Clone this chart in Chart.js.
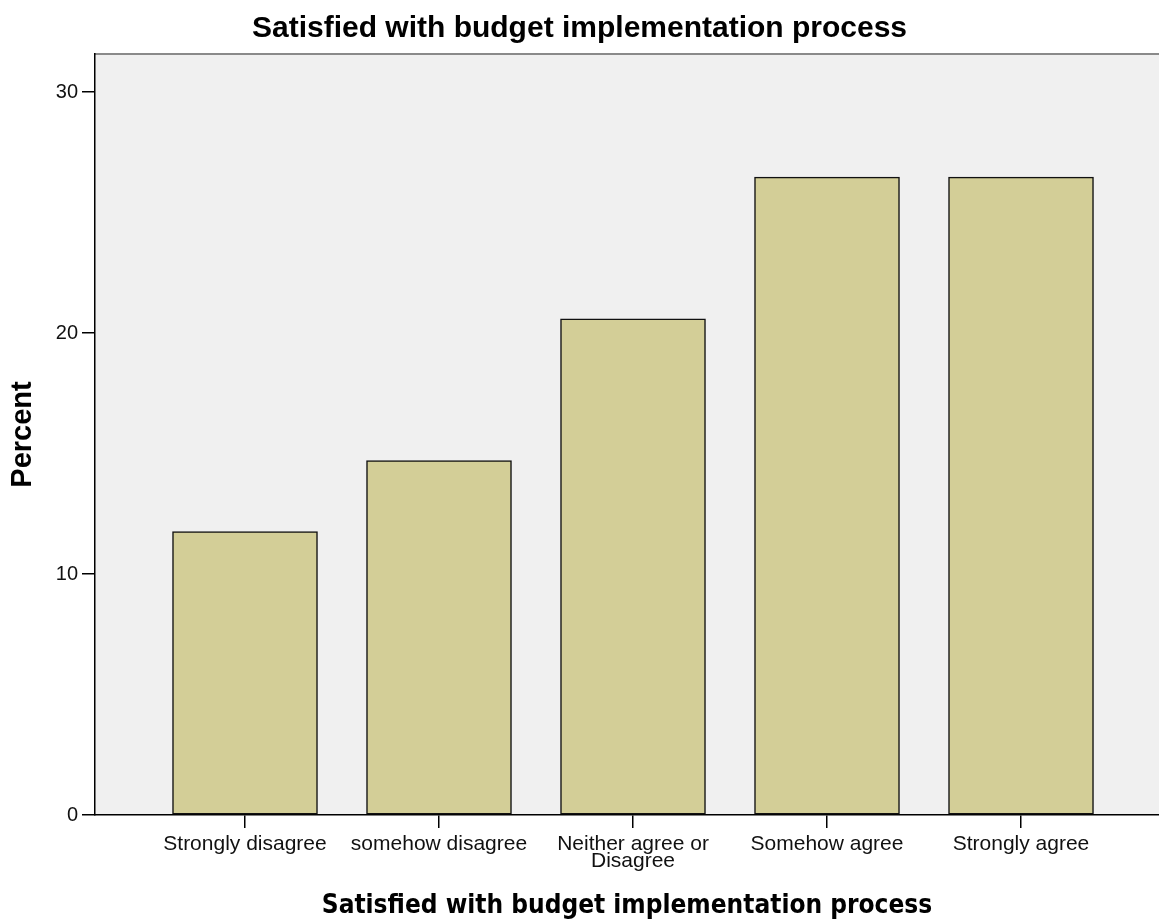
<!DOCTYPE html>
<html>
<head>
<meta charset="utf-8">
<script src="https://cdn.jsdelivr.net/npm/chart.js@4.4.1/dist/chart.umd.min.js"></script>
<style>
    body { margin: 0; background: #fff; }
    canvas { display: block; }
</style>
</head>
<body>
<canvas id="myChart" width="1159" height="924"></canvas>
<script>
let myChart;

// values (percent of respondents)
const categories = ['Strongly disagree', 'somehow disagree', ['Neither agree or', 'Disagree'], 'Somehow agree', 'Strongly agree'];
const percentValues = [11.76, 14.71, 20.59, 26.47, 26.47];
const yTicks = [0, 10, 20, 30];
const chartTitle = 'Satisfied with budget implementation process';
const yTitle = 'Percent';

// grey plot background and the top frame line
const plotBackground = {
    id: 'plotBackground',
    beforeDraw(chart) {
        const {ctx, chartArea} = chart;
        ctx.save();
        ctx.fillStyle = '#f0f0f0';
        ctx.fillRect(chartArea.left, chartArea.top, chartArea.right - chartArea.left, chartArea.bottom - chartArea.top);
        ctx.strokeStyle = '#8a8a8a';
        ctx.lineWidth = 2;
        ctx.beginPath();
        ctx.moveTo(chartArea.left, chartArea.top);
        ctx.lineTo(chartArea.right, chartArea.top);
        ctx.stroke();
        ctx.restore();
    }
};

function createChart(labels, values) {
    const ctx = document.getElementById('myChart').getContext('2d');

    if (myChart) {
        myChart.destroy();
    }

    Chart.defaults.font.family = '"Liberation Sans", Arial, sans-serif';
    Chart.defaults.color = '#000';

    myChart = new Chart(ctx, {
        type: 'bar',
        data: {
            datasets: [{
                label: yTitle,
                data: values.map((v, i) => ({x: i + 1, y: v})),
                backgroundColor: '#d3ce97',
                borderColor: '#111',
                borderWidth: 1.5,
                borderSkipped: false,
                barThickness: 145
            }]
        },
        options: {
            responsive: false,
            animation: false,
            layout: {
                padding: 0
            },
            plugins: {
                legend: {
                    display: false
                },
                tooltip: {
                    enabled: false
                },
                title: {
                    display: true,
                    text: chartTitle,
                    color: '#000',
                    font: {size: 30, weight: 'bold'},
                    padding: {top: 11, bottom: 7}
                }
            },
            scales: {
                x: {
                    type: 'linear',
                    offset: false,
                    min: 0.2268,
                    max: 5.7113,
                    border: {
                        display: true,
                        color: '#000',
                        width: 1.5
                    },
                    grid: {
                        offset: false,
                        drawOnChartArea: false,
                        drawTicks: true,
                        tickLength: 13,
                        color: '#000',
                        lineWidth: 1.5
                    },
                    ticks: {
                        autoSkip: false,
                        maxRotation: 0,
                        padding: 8,
                        color: '#111',
                        font: {size: 21, lineHeight: 0.81},
                        callback: (value) => labels[value - 1]
                    },
                    afterBuildTicks: (axis) => {
                        axis.ticks = labels.map((c, i) => ({value: i + 1}));
                    },
                    afterFit: (axis) => {
                        axis.height = 109;
                    },
                    title: {
                        display: true,
                        text: chartTitle,
                        color: '#000',
                        font: {family: '"DejaVu Sans Condensed", "DejaVu Sans", sans-serif', size: 26, weight: 'bold'},
                        padding: {top: 0, bottom: 2}
                    }
                },
                y: {
                    min: 0,
                    max: 31.58,
                    border: {
                        display: true,
                        color: '#000',
                        width: 1.5
                    },
                    grid: {
                        drawOnChartArea: false,
                        drawTicks: true,
                        tickLength: 13,
                        color: '#000',
                        lineWidth: 1.5
                    },
                    ticks: {
                        includeBounds: false,
                        padding: 4,
                        color: '#111',
                        font: {size: 20}
                    },
                    afterBuildTicks: (axis) => {
                        axis.ticks = yTicks.map(v => ({value: v}));
                    },
                    afterFit: (axis) => {
                        axis.width = 95;
                    },
                    title: {
                        display: true,
                        text: yTitle,
                        color: '#000',
                        font: {size: 29, weight: 'bold'},
                        padding: {top: 6, bottom: 0}
                    }
                }
            }
        },
        plugins: [plotBackground]
    });
}

document.addEventListener('DOMContentLoaded', () => {
    createChart(categories, percentValues);
});
</script>
</body>
</html>
